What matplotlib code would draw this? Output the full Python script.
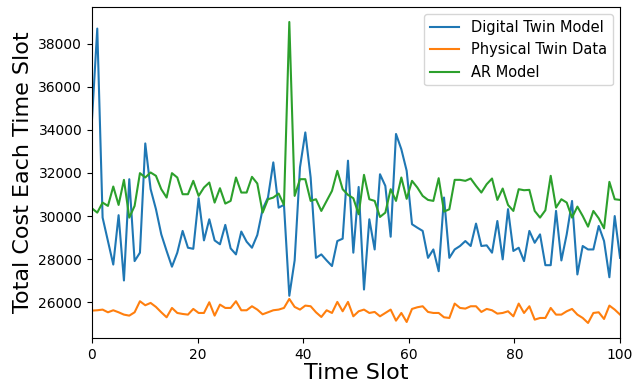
import numpy as np
import matplotlib
matplotlib.use('Agg')
import matplotlib.pyplot as plt

# values, 100 samples spread over 0..100
digital_twin = [34430, 38700, 29930, 28840, 27750, 30040, 27010, 31710, 27910, 28300,
                33370, 31250, 30320, 29150, 28380, 27650, 28300, 29310, 28530, 28480,
                30830, 28870, 29850, 28870, 28690, 29590, 28500, 28220, 29280, 28810,
                28530, 29120, 30320, 30860, 32490, 30390, 30520, 26300, 27940, 32260,
                33880, 31790, 28060, 28220, 27940, 27680, 28840, 28950, 32570, 28300,
                31350, 26590, 29850, 28450, 31940, 31400, 29040, 33810, 33100, 32100,
                29620, 29460, 29310, 28060, 28450, 27440, 30860, 28060, 28450, 28610,
                28840, 28610, 29650, 28610, 28640, 28300, 29770, 27990, 30320, 28380,
                28530, 27910, 29310, 28760, 29150, 27720, 27720, 30240, 27940, 29150,
                30700, 27290, 28610, 28450, 28450, 29540, 28840, 27160, 30000, 28060]

physical_twin = [25612, 25628, 25659, 25534, 25628, 25534, 25426, 25379, 25534, 26047,
                 25860, 25969, 25783, 25534, 25302, 25736, 25503, 25457, 25426, 25690,
                 25503, 25503, 26000, 25379, 25891, 25736, 25736, 26047, 25628, 25628,
                 25814, 25659, 25441, 25534, 25628, 25659, 25736, 26155, 25783, 25659,
                 25845, 25814, 25534, 25317, 25628, 25503, 26016, 25581, 26016, 25348,
                 25581, 25659, 25503, 25550, 25348, 25503, 25659, 25146, 25503, 25084,
                 25690, 25767, 25814, 25550, 25503, 25503, 25302, 25271, 25938, 25736,
                 25705, 25814, 25814, 25550, 25690, 25628, 25472, 25503, 25581, 25348,
                 25938, 25503, 25814, 25193, 25271, 25271, 25736, 25426, 25426, 25581,
                 25690, 25426, 25271, 25038, 25503, 25534, 25224, 25845, 25659, 25426]

ar_model = [30361, 30159, 30625, 30470, 31370, 30516, 31680, 29927, 30470, 31991,
            31789, 32022, 31867, 31246, 30858, 31991, 31789, 31013, 31013, 31634,
            30935, 31323, 31556, 30625, 31292, 30578, 30703, 31789, 31091, 31091,
            31820, 31510, 30159, 30780, 30858, 31044, 30516, 39006, 30935, 31711,
            31711, 30703, 30780, 30237, 30703, 31168, 32099, 31246, 30982, 30827,
            30082, 31913, 30780, 30703, 29958, 30159, 31246, 30703, 31789, 30800,
            31634, 31323, 30935, 30749, 30703, 31758, 30206, 30315, 31680, 31680,
            31634, 31742, 31401, 31091, 31478, 31742, 30749, 31277, 30516, 30237,
            31246, 31199, 31215, 30237, 29927, 30268, 31867, 30392, 30780, 30625,
            29927, 30439, 30004, 29508, 30237, 29896, 29430, 31587, 30780, 30749]

labels = ['Digital Twin Model', 'Physical Twin Data', 'AR Model']

x = np.linspace(0, 100, len(digital_twin))

fig = plt.figure(figsize=(6.34, 3.85), dpi=100)
ax = fig.add_subplot(111)
fig.subplots_adjust(left=0.145, right=0.978, top=0.982, bottom=0.122)

ax.plot(x, digital_twin, label=labels[0])
ax.plot(x, physical_twin, label=labels[1])
ax.plot(x, ar_model, label=labels[2])

ax.set_xlim(0, 100)
ax.set_xlabel('Time Slot', fontsize=16, labelpad=1)
ax.set_ylabel('Total Cost Each Time Slot', fontsize=16, labelpad=4)
ax.tick_params(labelsize=10)
ax.legend(loc='upper right', fontsize=10.5)

fig.savefig('out.png', dpi=100)
